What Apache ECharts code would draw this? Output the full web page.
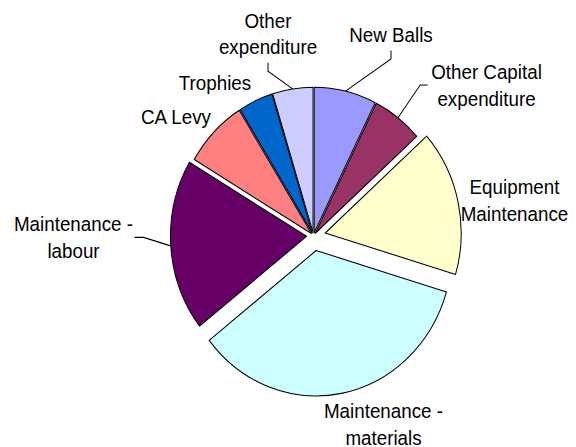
<!DOCTYPE html>
<html>
<head>
<meta charset="utf-8">
<title>Expenditure</title>
<script src="https://cdn.jsdelivr.net/npm/echarts@6.0.0/dist/echarts.min.js"></script>
<style>
  html, body { margin: 0; padding: 0; background: #fff; overflow: hidden; }
  #wrap { width: 576px; height: 447px; overflow: hidden; }
  /* the source picture is stretched a little in height */
  #chart { width: 576px; height: 432px; transform: scaleY(1.0694); transform-origin: 0 0; }
</style>
</head>
<body>
<div id="wrap"><div id="chart"></div></div>
<script>
const categories = [
  'New Balls',
  'Other Capital\nexpenditure',
  'Equipment\nMaintenance',
  'Maintenance -\nmaterials',
  'Maintenance -\nlabour',
  'CA Levy',
  'Trophies',
  'Other\nexpenditure'
]
const values = [7.4, 6.0, 16.2, 34.8, 19.1, 7.6, 4.1, 4.8]
const colors = ['#9999FF', '#993366', '#FFFFCC', '#CCFFFF', '#660066', '#FF8080', '#0066CC', '#CCCCFF']

// how far each slice is pulled out, px
const explode = [3, 3, 12, 14, 7, 3, 3, 3]
// centre of each label block, and which side the leader leaves from
const labelSpots = [
  [391, 32.7, 'down'],
  [486.5, 79.5, 'left'],
  [514.5, 187, null],
  [383.5, 396.5, null],
  [73.5, 222, 'right'],
  [176, 108.9, null],
  [215, 77.8, null],
  [268, 31.6, 'down']
]

const CX = 313.5
const CY = 220.5
const R = 136

const total = values.reduce((a, b) => a + b, 0)
const midAngles = []
let acc = 0
values.forEach(v => {
  midAngles.push((acc + v / 2) / total * Math.PI * 2)
  acc += v
})

function sliceCenter(i) {
  const a = midAngles[i]
  return [CX + explode[i] * Math.sin(a), CY - explode[i] * Math.cos(a)]
}

function edgePoint(i) {
  const c = sliceCenter(i)
  const a = midAngles[i]
  return [c[0] + R * Math.sin(a), c[1] - R * Math.cos(a)]
}

const textStyle = {
  fontFamily: 'Liberation Sans, Arial, sans-serif',
  fontSize: 18.8,
  lineHeight: 25,
  color: '#000'
}

const series = categories.map((name, i) => ({
  type: 'pie',
  silent: true,
  animation: false,
  startAngle: 90,
  clockwise: true,
  radius: R,
  center: sliceCenter(i),
  avoidLabelOverlap: false,
  label: { show: false },
  labelLine: { show: false },
  emphasis: { disabled: true },
  data: values.map((v, j) => j === i ? {
    value: v,
    name: categories[j],
    itemStyle: { color: colors[j], borderColor: '#000', borderWidth: 1 },
    label: Object.assign({ show: true, position: 'outside', align: 'center' }, textStyle),
    labelLine: { show: !!labelSpots[j][2], lineStyle: { color: '#000', width: 1 } }
  } : {
    value: v,
    name: categories[j],
    itemStyle: { color: 'rgba(0,0,0,0)', borderWidth: 0 }
  }),
  labelLayout: params => {
    const k = params.dataIndex
    const [x, y, side] = labelSpots[k]
    const w = params.labelRect.width
    const h = params.labelRect.height
    const out = { x: x, y: y, align: 'center', verticalAlign: 'middle' }
    if (side) {
      let p1, p2
      if (side === 'down') {
        p2 = [x, y + h / 2 + 2]
        p1 = [x, p2[1] + 8]
      } else if (side === 'left') {
        p2 = [x - w / 2 - 3.5, y]
        p1 = [p2[0] - 7.5, y]
      } else {
        p2 = [x + w / 2 + 1.5, y]
        p1 = [p2[0] + 9, y]
      }
      out.labelLinePoints = [edgePoint(k), p1, p2]
    }
    return out
  }
}))

const chart = echarts.init(document.getElementById('chart'), null, { renderer: 'svg' })
chart.setOption({
  backgroundColor: '#fff',
  series: series
})
</script>
</body>
</html>
